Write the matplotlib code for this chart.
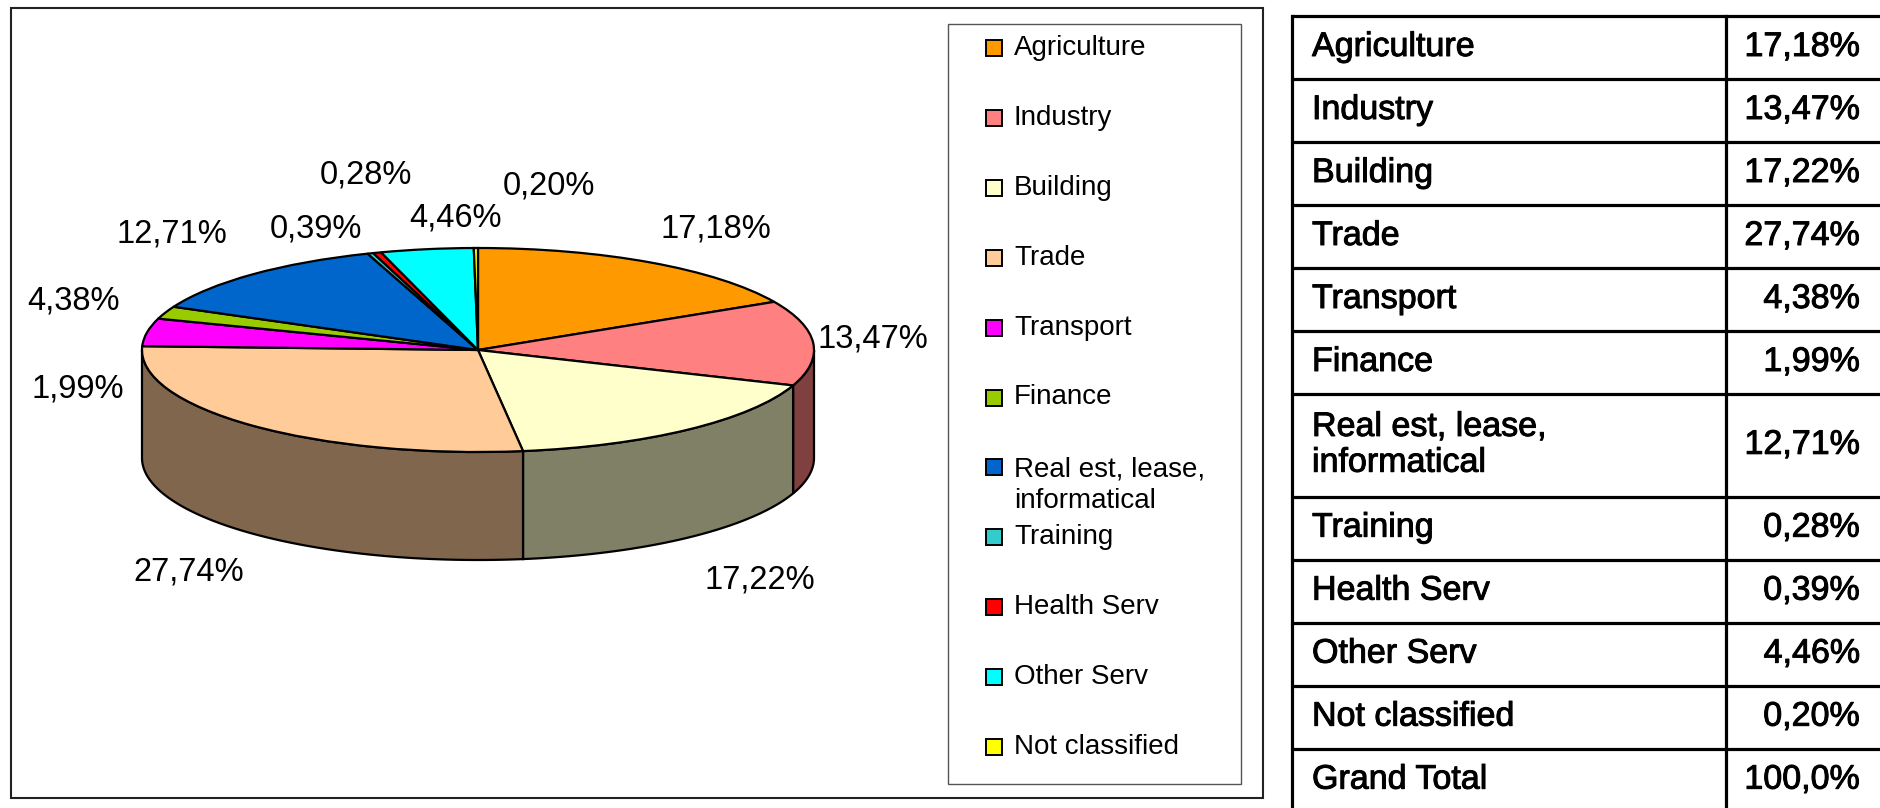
import numpy as np
import matplotlib
matplotlib.use("Agg")
import matplotlib.pyplot as plt
from matplotlib.patches import Rectangle, Polygon
from matplotlib.colors import to_rgb
import matplotlib.patheffects as pe

plt.rcParams['font.family'] = ['Liberation Sans', 'DejaVu Sans']

# ---------------- data ----------------
categories = ["Agriculture", "Industry", "Building", "Trade", "Transport", "Finance",
              "Real est, lease,\ninformatical", "Training", "Health Serv", "Other Serv",
              "Not classified"]
values = [17.18, 13.47, 17.22, 27.74, 4.38, 1.99, 12.71, 0.28, 0.39, 4.46, 0.20]
colors = ["#FF9900", "#FF8080", "#FFFFCC", "#FFCC99", "#FF00FF", "#99CC00",
          "#0066CC", "#33CCCC", "#FF0000", "#00FFFF", "#FFFF00"]
total_label = "Grand Total"
total_value = "100,0%"

def fmt(v):
    return f"{v:.2f}".replace(".", ",") + "%"

# ---------------- layout (pixels) ----------------
W, H = 1881, 808
fig = plt.figure(figsize=(W / 100, H / 100), dpi=100)

cx, cy = 478, 350          # pie centre (from top)
rx, ry = 336, 102          # ellipse radii
depth_px = 108             # thickness of the 3D side

# pie axes: unit circle scaled to the ellipse through the axis limits
ax = fig.add_axes([0, 0, 1, 1])
wedges, _ = ax.pie(values, colors=colors, startangle=90, counterclock=False,
                   wedgeprops=dict(edgecolor="black", linewidth=1.6, zorder=3))
ax.set_aspect("auto")
ax.set_xlim(-cx / rx, (W - cx) / rx)
ax.set_ylim(-(H - cy) / ry, cy / ry)
ax.axis("off")

# side walls of the visible (front) half
d = depth_px / ry
vals = np.asarray(values, dtype=float)
edges = np.concatenate([[0], np.cumsum(vals) / vals.sum() * 360.0])
for i in range(len(vals)):
    a1, a2 = max(edges[i], 90.0), min(edges[i + 1], 270.0)
    if a2 <= a1:
        continue
    th = np.radians(np.linspace(a1, a2, 120))
    xs, ys = np.sin(th), np.cos(th)
    pts = np.concatenate([np.column_stack([xs, ys]),
                          np.column_stack([xs[::-1], ys[::-1] - d])])
    side = tuple(0.5 * c for c in to_rgb(colors[i]))
    ax.add_patch(Polygon(pts, closed=True, facecolor=side, edgecolor="black",
                         linewidth=1.6, zorder=1))

# overlay axes in pixel coordinates for frames, labels, legend and table
ov = fig.add_axes([0, 0, 1, 1], zorder=5)
ov.set_xlim(0, W)
ov.set_ylim(H, 0)
ov.axis("off")
ov.patch.set_alpha(0)

# chart frame and legend frame
ov.add_patch(Rectangle((11, 8), 1252, 790, fill=False, edgecolor="#222222", linewidth=1.5))
ov.add_patch(Rectangle((948, 24), 293, 760, fill=False, edgecolor="#555555", linewidth=1.0))

# percentage labels
label_xy = [(716, 229), (873, 339), (760, 580), (189, 572), (73, 301), (78, 389),
            (172, 234), (366, 175), (316, 229), (456, 218), (549, 186)]
for v, (lx, ly) in zip(values, label_xy):
    ov.text(lx, ly, fmt(v), fontsize=23.5, ha="center", va="center", color="black")

# legend
leg_y0, leg_step = 48, 69.9
for i, (cat, col) in enumerate(zip(categories, colors)):
    yy = leg_y0 + i * leg_step
    ov.add_patch(Rectangle((986, yy - 8), 16, 16, facecolor=col, edgecolor="black",
                           linewidth=1.4))
    if "\n" in cat:
        ov.text(1014, yy + 18, cat, fontsize=20, ha="left", va="center",
                linespacing=1.3, color="black")
    else:
        ov.text(1014, yy, cat, fontsize=20, ha="left", va="center", color="black")

# table
row_units = [1, 1, 1, 1, 1, 1, 1.63, 1, 1, 1, 1, 1]
row_h = 63
tab_x0, tab_xm, tab_x1, tab_y0 = 1292, 1726, W + 2, 16
bounds = tab_y0 + np.concatenate([[0], np.cumsum(row_units)]) * row_h
rows = [(c, fmt(v)) for c, v in zip(categories, values)] + [(total_label, total_value)]
lw_t = 2.3
for b in bounds:
    ov.plot([tab_x0, tab_x1], [b, b], color="black", linewidth=lw_t, solid_capstyle="butt")
ov.plot([tab_x0, tab_x0], [bounds[0], H + 5], color="black", linewidth=lw_t)
ov.plot([tab_xm, tab_xm], [bounds[0], H + 5], color="black", linewidth=lw_t)
heavy = [pe.withStroke(linewidth=0.7, foreground="black")]
for (name, val), top, bot in zip(rows, bounds[:-1], bounds[1:]):
    ymid = (top + bot) / 2
    ov.text(1312, ymid, name, fontsize=24.5, ha="left", va="center", linespacing=1.2,
            path_effects=heavy)
    ov.text(1860, ymid, val, fontsize=24.5, ha="right", va="center", path_effects=heavy)

fig.savefig("out.png", dpi=100)
